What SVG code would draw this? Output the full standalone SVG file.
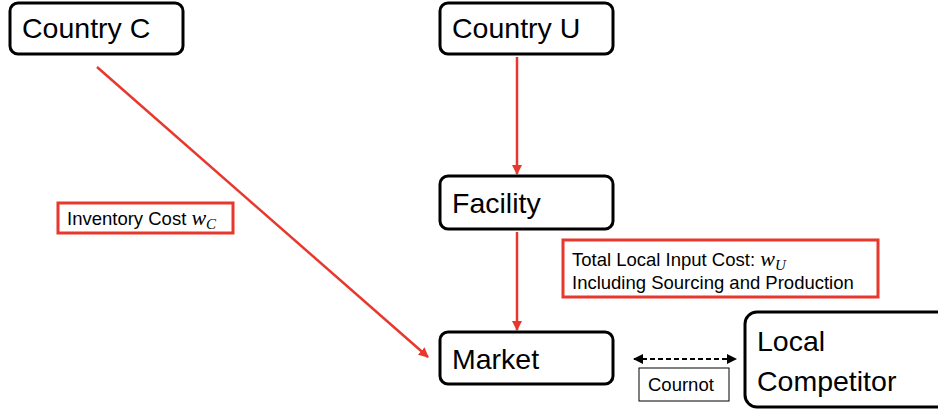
<svg xmlns="http://www.w3.org/2000/svg" width="938" height="412" viewBox="0 0 938 412">
<defs>
<marker id="ar" viewBox="0 0 10 10" refX="9" refY="5" markerWidth="4" markerHeight="4" orient="auto"><path d="M0,0 L10,5 L0,10 z" fill="#e8372c"/></marker>
<marker id="ab" viewBox="0 0 10 10" refX="9" refY="5" markerWidth="5" markerHeight="5" orient="auto-start-reverse"><path d="M0,0 L10,5 L0,10 z" fill="#000"/></marker>
<style>
.node{fill:#fff;stroke:#000;stroke-width:3}
.lbl{font-family:"Liberation Sans",Arial,sans-serif;font-size:28.5px;fill:#000}
.sm{font-family:"Liberation Sans",Arial,sans-serif;font-size:18.5px;fill:#000}
.math{font-family:"Liberation Serif","Times New Roman",serif;font-style:italic}
.rbox{fill:#fff;stroke:#e8372c;stroke-width:3}
.red{stroke:#e8372c;stroke-width:2.5;fill:none;marker-end:url(#ar)}
</style>
</defs>
<g id="connectors">
<line class="red" x1="97" y1="67" x2="428" y2="357"/>
<line class="red" x1="517" y1="57" x2="517" y2="174"/>
<line class="red" x1="517" y1="232" x2="517" y2="330"/>
<line x1="634" y1="359" x2="736" y2="359" stroke="#000" stroke-width="2" stroke-dasharray="5,3" marker-start="url(#ab)" marker-end="url(#ab)"/>
</g>
<g id="countryC"><rect class="node" x="10" y="3" width="173" height="51" rx="8"/><text class="lbl" x="22" y="38">Country C</text></g>
<g id="countryU"><rect class="node" x="440" y="3" width="173" height="51" rx="8"/><text class="lbl" x="452" y="38">Country U</text></g>
<g id="facility"><rect class="node" x="440" y="176" width="173" height="53" rx="8"/><text class="lbl" x="452" y="213">Facility</text></g>
<g id="market"><rect class="node" x="440" y="332" width="173" height="52" rx="8"/><text class="lbl" x="452" y="369">Market</text></g>
<g id="competitor"><rect class="node" x="745" y="312" width="210" height="95" rx="12"/><text class="lbl" x="757" y="351">Local</text><text class="lbl" x="757" y="391">Competitor</text></g>
<g id="inventory"><rect class="rbox" x="58" y="203" width="175" height="30"/><text class="sm" x="67" y="225">Inventory Cost <tspan class="math" font-size="22">w</tspan><tspan class="math" font-size="15" dy="4">C</tspan></text></g>
<g id="localcost"><rect class="rbox" x="563" y="240" width="315" height="57"/><text class="sm" x="572" y="266">Total Local Input Cost: <tspan class="math" font-size="22">w</tspan><tspan class="math" font-size="15" dy="4">U</tspan></text><text class="sm" x="572" y="289">Including Sourcing and Production</text></g>
<g id="cournot"><rect fill="#fff" stroke="#000" stroke-width="1" x="639" y="368" width="90" height="33"/><text class="sm" x="648" y="391" font-size="18">Cournot</text></g>
</svg>
